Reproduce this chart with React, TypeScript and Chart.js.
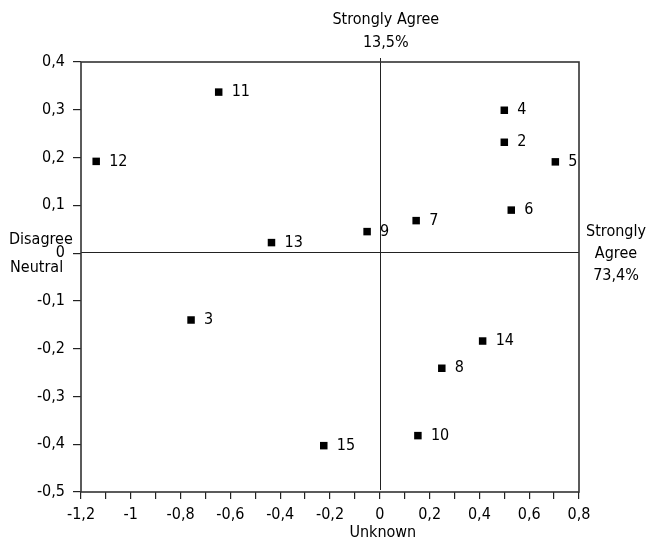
import React, { useEffect, useRef } from "react";
import { Chart, registerables } from "chart.js";

Chart.register(...registerables);

const pointLabels = ["2", "3", "4", "5", "6", "7", "8", "9", "10", "11", "12", "13", "14", "15"];
const xValues = [0.5, -0.758, 0.5, 0.705, 0.528, 0.146, 0.249, -0.051, 0.153, -0.647, -1.139, -0.435, 0.413, -0.225];
const yValues = [0.232, -0.14, 0.299, 0.191, 0.09, 0.068, -0.241, 0.045, -0.382, 0.337, 0.192, 0.022, -0.184, -0.403];

const xMin = -1.2;
const xMax = 0.8;
const yMin = -0.5;
const yMax = 0.4;

const topTitle = ["Strongly Agree", "13,5%"];
const rightTitle = ["Strongly", "Agree", "73,4%"];
const leftUpper = "Disagree";
const leftLower = "Neutral";
const bottomTitle = "Unknown";

const FONT_FAMILY = "'DejaVu Sans Condensed', 'DejaVu Sans', sans-serif";
const FONT_SIZE = 16;
const TEXT = "#000";

const fmt = (v: number) => {
  const r = Math.round(v * 10) / 10;
  return String(r).replace(".", ",");
};

const overlayPlugin = {
  id: "overlay",
  beforeDatasetsDraw(chart: any) {
    const { ctx, chartArea: a, scales } = chart;
    const x0 = scales.x.getPixelForValue(0);
    const y0 = scales.y.getPixelForValue(0);
    ctx.save();
    ctx.strokeStyle = "#222";
    ctx.lineWidth = 1;
    ctx.beginPath();
    ctx.moveTo(Math.round(x0) + 0.5, a.top - 4);
    ctx.lineTo(Math.round(x0) + 0.5, a.bottom - 2);
    ctx.moveTo(a.left, Math.round(y0) - 0.5);
    ctx.lineTo(a.right, Math.round(y0) - 0.5);
    ctx.stroke();
    ctx.strokeStyle = "#333";
    ctx.lineWidth = 1.6;
    ctx.strokeRect(a.left, a.top, a.right - a.left, a.bottom - a.top);
    ctx.restore();
  },
  afterDatasetsDraw(chart: any) {
    const { ctx, chartArea: a, scales } = chart;
    const x0 = scales.x.getPixelForValue(0);
    const y0 = scales.y.getPixelForValue(0);
    ctx.save();
    ctx.fillStyle = TEXT;
    ctx.font = `${FONT_SIZE}px ${FONT_FAMILY}`;
    ctx.textBaseline = "middle";
    const meta = chart.getDatasetMeta(0);
    meta.data.forEach((el: any, i: number) => {
      ctx.textAlign = "left";
      ctx.fillText(pointLabels[i], el.x + 13, el.y);
    });
    ctx.textAlign = "center";
    topTitle.forEach((t, i) => ctx.fillText(t, x0 + 6, a.top - 42 + i * 23));
    rightTitle.forEach((t, i) => ctx.fillText(t, a.right + 37, y0 - 21 + i * 22));
    ctx.textAlign = "left";
    ctx.fillText(leftUpper, 9, y0 - 13);
    ctx.fillText(leftLower, 10, y0 + 15);
    ctx.textAlign = "center";
    ctx.fillText(bottomTitle, x0 + 3, a.bottom + 41);
    ctx.restore();
  },
};

export default function App() {
  const canvasRef = useRef<HTMLCanvasElement | null>(null);

  useEffect(() => {
    document.body.style.margin = "0";
    const canvas = canvasRef.current;
    if (!canvas) return;
    const chart = new Chart(canvas, {
      type: "scatter",
      data: {
        datasets: [
          {
            data: xValues.map((x, i) => ({ x, y: yValues[i] })),
            pointStyle: "rect",
            pointRadius: 5.3,
            pointHoverRadius: 5.3,
            backgroundColor: "#000",
            borderColor: "#000",
            borderWidth: 0,
          },
        ],
      },
      options: {
        responsive: false,
        animation: false,
        devicePixelRatio: 1,
        layout: { padding: { top: 62, right: 68, left: 0, bottom: 0 } },
        plugins: {
          legend: { display: false },
          tooltip: { enabled: false },
          title: { display: false },
        },
        scales: {
          x: {
            type: "linear",
            min: xMin,
            max: xMax,
            afterFit: (s: any) => {
              s.height = 48;
            },
            border: { display: false },
            grid: {
              drawOnChartArea: false,
              drawTicks: true,
              tickLength: 7,
              color: "#222",
              lineWidth: 1.2,
            },
            ticks: {
              stepSize: 0.1,
              autoSkip: false,
              maxRotation: 0,
              padding: 6,
              color: TEXT,
              font: { family: FONT_FAMILY, size: FONT_SIZE },
              callback: (v: any) => {
                const n = Math.round(Number(v) * 10);
                return n % 2 === 0 ? fmt(Number(v)) : "";
              },
            },
          },
          y: {
            type: "linear",
            min: yMin,
            max: yMax,
            afterFit: (s: any) => {
              s.width = 81;
            },
            border: { display: false },
            grid: {
              drawOnChartArea: false,
              drawTicks: true,
              tickLength: 8,
              color: "#222",
              lineWidth: 1.2,
            },
            ticks: {
              stepSize: 0.1,
              autoSkip: false,
              padding: 8,
              color: TEXT,
              font: { family: FONT_FAMILY, size: FONT_SIZE },
              callback: (v: any) => fmt(Number(v)),
            },
          },
        },
      },
      plugins: [overlayPlugin],
    });
    return () => chart.destroy();
  }, []);

  return (
    <div style={{ width: 647, height: 540, background: "#fff" }}>
      <canvas ref={canvasRef} width={647} height={540} style={{ display: "block" }} />
    </div>
  );
}
